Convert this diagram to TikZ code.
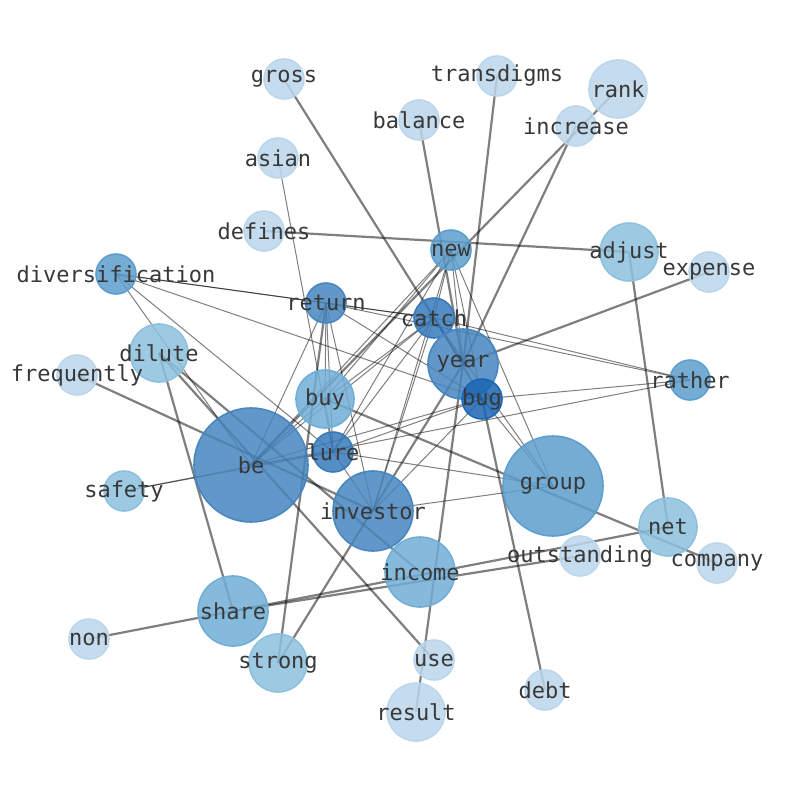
\documentclass[tikz,border=0pt]{standalone}
\usepackage{fontspec}
\setmonofont{DejaVu Sans Mono}
\usepackage{xcolor}

\definecolor{cLight}{RGB}{187,214,235}
\definecolor{cPale}{RGB}{140,193,221}
\definecolor{cSoft}{RGB}{112,174,214}
\definecolor{cMid}{RGB}{92,158,205}
\definecolor{cDeep}{RGB}{71,134,191}
\definecolor{cDark}{RGB}{55,122,186}
\definecolor{cBug}{RGB}{26,102,179}

\pgfdeclarelayer{edges}
\pgfsetlayers{edges,main}

\begin{document}
\begin{tikzpicture}[x=1pt, y=-1pt,
    word/.style={circle, draw, line width=1.6pt, fill opacity=0.85, inner sep=0pt},
    s1/.style={minimum size=40pt}, s2/.style={minimum size=58pt},
    s3/.style={minimum size=70pt}, s4/.style={minimum size=80pt},
    s5/.style={minimum size=100pt}, s6/.style={minimum size=114pt},
    light/.style={word, fill=cLight, draw=cLight},
    pale/.style={word, fill=cPale, draw=cPale},
    soft/.style={word, fill=cSoft, draw=cSoft},
    mid/.style={word, fill=cMid, draw=cMid},
    deep/.style={word, fill=cDeep, draw=cDeep},
    dark/.style={word, fill=cDark, draw=cDark},
    darkest/.style={word, fill=cBug, draw=cBug},
    tag/.style={text=black!78, text opacity=1, font=\fontsize{22}{24}\selectfont\ttfamily},
    link/.style={draw=black, opacity=0.5, line width=1pt},
    heavy/.style={draw=black, opacity=0.5, line width=2.2pt}]
    \useasboundingbox (0,0) rectangle (794,790);

    % Words
    \node[light, s1, label={[tag]center:gross}] (gross) at (284,79) {};
    \node[light, s1, label={[tag]center:transdigms}] (transdigms) at (497,76) {};
    \node[light, s2, label={[tag]center:rank}] (rank) at (618,89) {};
    \node[light, s1, label={[tag]center:balance}] (balance) at (419,120) {};
    \node[light, s1, label={[tag]center:increase}] (increase) at (576,126) {};
    \node[light, s1, label={[tag]center:asian}] (asian) at (278,158) {};
    \node[light, s1, label={[tag]center:defines}] (defines) at (264,231) {};
    \node[mid, s1, label={[tag]center:new}] (new) at (451,250) {};
    \node[pale, s2, label={[tag]center:adjust}] (adjust) at (629,252) {};
    \node[light, s1, label={[tag]center:expense}] (expense) at (709,272) {};
    \node[mid, s1, label={[tag]center:diversification}] (diversification) at (116,274) {};
    \node[deep, s1, label={[tag]center:return}] (return) at (326,303) {};
    \node[dark, s1, label={[tag]center:catch}] (catch) at (434,318) {};
    \node[pale, s2, label={[tag]center:dilute}] (dilute) at (159,353) {};
    \node[light, s1, label={[tag]center:frequently}] (frequently) at (77,375) {};
    \node[deep, s3, label={[tag]center:year}] (year) at (463,364) {};
    \node[mid, s1, label={[tag]center:rather}] (rather) at (690,380) {};
    \node[soft, s2, label={[tag]center:buy}] (buy) at (325,399) {};
    \node[darkest, s1, label={[tag]center:bug}] (bug) at (482,399) {};
    \node[dark, s1, label={[tag]center:lure}] (lure) at (333,452) {};
    \node[deep, s6, label={[tag]center:be}] (be) at (251,465) {};
    \node[pale, s1, label={[tag]center:safety}] (safety) at (124,491) {};
    \node[mid, s5, label={[tag]center:group}] (group) at (553,486) {};
    \node[deep, s4, label={[tag]center:investor}] (investor) at (373,511) {};
    \node[pale, s2, label={[tag]center:net}] (net) at (668,527) {};
    \node[light, s1, label={[tag]center:outstanding}] (outstanding) at (580,556) {};
    \node[light, s1, label={[tag]center:company}] (company) at (717,563) {};
    \node[soft, s3, label={[tag]center:income}] (income) at (420,572) {};
    \node[soft, s3, label={[tag]center:share}] (share) at (233,611) {};
    \node[light, s1, label={[tag]center:non}] (non) at (89,639) {};
    \node[pale, s2, label={[tag]center:strong}] (strong) at (278,663) {};
    \node[light, s1, label={[tag]center:use}] (use) at (434,660) {};
    \node[light, s1, label={[tag]center:debt}] (debt) at (545,690) {};
    \node[light, s2, label={[tag]center:result}] (result) at (416,712) {};

    \begin{pgfonlayer}{edges}
    % Strong links
    \foreach \a/\b in {gross/year, balance/year, transdigms/year, increase/year,
        rank/be, defines/adjust, adjust/net, expense/year, frequently/investor,
        dilute/share, dilute/use, dilute/income, strong/year, strong/return,
        buy/company, non/net, share/outstanding, bug/debt, result/year}
        \draw[heavy] (\a.center) -- (\b.center);
    % Weak links
    \foreach \a/\b in {diversification/return, diversification/catch,
        diversification/bug, diversification/lure, diversification/be,
        asian/lure, safety/lure, safety/rather,
        return/catch, return/rather, return/buy, return/lure, return/be,
        return/investor, return/bug,
        catch/rather, catch/new, catch/year, catch/bug, catch/buy, catch/be,
        catch/lure, catch/investor, catch/group,
        new/year, new/bug, new/group, new/be, new/lure, new/investor, new/buy,
        bug/rather, bug/lure, bug/be, bug/investor, bug/group, bug/year,
        lure/be, lure/group, lure/investor, lure/buy, investor/group, be/buy}
        \draw[link] (\a.center) -- (\b.center);
    \end{pgfonlayer}
\end{tikzpicture}
\end{document}
